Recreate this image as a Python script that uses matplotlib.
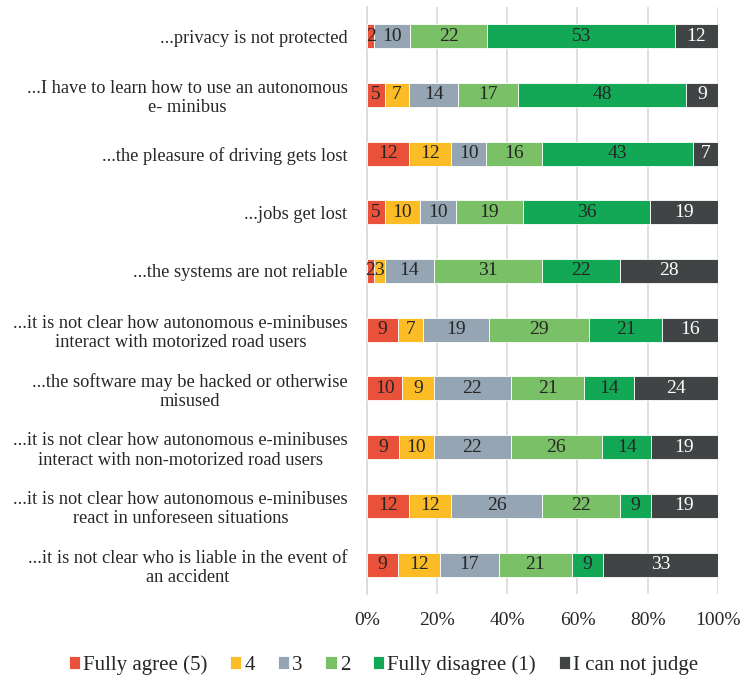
import matplotlib
matplotlib.use("Agg")
import matplotlib.pyplot as plt
import numpy as np

plt.rcParams['font.family'] = ['Liberation Serif', 'DejaVu Serif']

categories = [
    "...privacy is not protected",
    "...I have to learn how to use an autonomous\ne- minibus",
    "...the pleasure of driving gets lost",
    "...jobs get lost",
    "...the systems are not reliable",
    "...it is not clear how autonomous e-minibuses\ninteract with motorized road users",
    "...the software may be hacked or otherwise\nmisused",
    "...it is not clear how autonomous e-minibuses\ninteract with non-motorized road users",
    "...it is not clear how autonomous e-minibuses\nreact in unforeseen situations",
    "...it is not clear who is liable in the event of\nan accident",
]
series_names = ["Fully agree (5)", "4", "3", "2", "Fully disagree (1)", "I can not judge"]
fully_agree = [2, 5, 12, 5, 2, 9, 10, 9, 12, 9]
four = [0, 7, 12, 10, 3, 7, 9, 10, 12, 12]
three = [10, 14, 10, 10, 14, 19, 22, 22, 26, 17]
two = [22, 17, 16, 19, 31, 29, 21, 26, 22, 21]
fully_disagree = [53, 48, 43, 36, 22, 21, 14, 14, 9, 9]
cannot_judge = [12, 9, 7, 19, 28, 16, 24, 19, 19, 33]
tick_labels = ["0%", "20%", "40%", "60%", "80%", "100%"]

colors = ["#E9513A", "#FBBC25", "#95A5B3", "#79C066", "#13A855", "#414445"]
text_colors = ["#262626", "#262626", "#262626", "#262626", "#262626", "white"]

data = np.array([fully_agree, four, three, two, fully_disagree, cannot_judge], dtype=float)
totals = data.sum(axis=0)
pct = data / totals * 100

fig = plt.figure(figsize=(7.43, 6.78), dpi=100)
ax = fig.add_axes([0.494, 0.124, 0.472, 0.866])

y = np.arange(len(categories))
left = np.zeros(len(categories))
for i, name in enumerate(series_names):
    bars = ax.barh(y, pct[i], left=left, height=0.41, color=colors[i], label=name,
                   edgecolor='white', linewidth=0.6, zorder=3)
    for j, b in enumerate(bars):
        v = data[i, j]
        if v > 0:
            ax.text(left[j] + pct[i, j] / 2, y[j], f"{int(v)}", ha='center', va='center',
                    fontsize=14, color=text_colors[i], zorder=4)
    left += pct[i]

ax.set_ylim(len(categories) - 0.5, -0.5)
ax.set_xlim(0, 100)
ax.set_yticks(y)
ax.set_yticklabels(categories, fontsize=13.2, color='#262626', multialignment='center',
                   linespacing=1.2)
ax.set_xticks([0, 20, 40, 60, 80, 100])
ax.set_xticklabels(tick_labels, fontsize=14, color='#262626')
ax.tick_params(axis='both', length=0)
ax.tick_params(axis='x', pad=13)
ax.tick_params(axis='y', pad=14)
ax.grid(axis='x', color='#D9D9D9', linewidth=1.2, zorder=0)
for s in ['top', 'right', 'bottom']:
    ax.spines[s].set_visible(False)
ax.spines['left'].set_color('#D9D9D9')
ax.spines['left'].set_linewidth(1.2)

handles, labels = ax.get_legend_handles_labels()
fig.legend(handles, labels, loc='center', bbox_to_anchor=(0.516, 0.019), ncol=6,
           frameon=False, fontsize=15, handlelength=0.53, handleheight=0.53,
           handletextpad=0.15, columnspacing=1.1, labelcolor='#262626',
           borderpad=0.2)

fig.savefig("out.png", dpi=100)
